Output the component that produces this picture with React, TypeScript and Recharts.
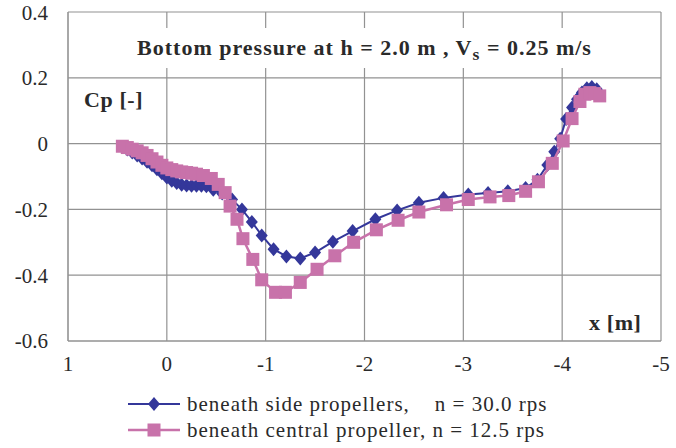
import { CartesianGrid, Scatter, ScatterChart, XAxis, YAxis } from "recharts";

const BLUE = "#34379a";
const PINK = "#c872aa";
const FONT = "'Liberation Serif', 'Times New Roman', serif";

// beneath side propellers, n = 30.0 rps
const sideX = [
  0.45, 0.4, 0.35, 0.3, 0.25, 0.2, 0.15, 0.1, 0.05, 0.0, -0.05, -0.1, -0.15, -0.2, -0.25, -0.3, -0.35, -0.4,
  -0.47, -0.56, -0.66, -0.76, -0.86, -0.96, -1.08, -1.21, -1.35, -1.5, -1.68, -1.88, -2.11, -2.33, -2.55,
  -2.8, -3.05, -3.25, -3.45, -3.63, -3.75, -3.85, -3.92, -3.98, -4.04, -4.1, -4.15, -4.2, -4.25, -4.3, -4.35,
];
const sideCp = [
  -0.01, -0.018, -0.027, -0.036, -0.045, -0.055, -0.066, -0.078, -0.09, -0.103, -0.113, -0.12, -0.125, -0.127,
  -0.128, -0.128, -0.128, -0.13, -0.14, -0.152, -0.17, -0.2, -0.238, -0.279, -0.321, -0.343, -0.349, -0.331,
  -0.298, -0.266, -0.23, -0.203, -0.18, -0.165, -0.155, -0.15, -0.145, -0.135, -0.11, -0.065, -0.025, 0.015,
  0.075, 0.11, 0.135, 0.155, 0.168, 0.172, 0.165,
];

// beneath central propeller, n = 12.5 rps
const centralX = [
  0.45, 0.4, 0.35, 0.3, 0.25, 0.2, 0.15, 0.1, 0.05, 0.0, -0.05, -0.1, -0.15, -0.2, -0.25, -0.3, -0.37, -0.45,
  -0.52, -0.59, -0.64, -0.71, -0.77, -0.87, -0.96, -1.1, -1.2, -1.35, -1.52, -1.7, -1.89, -2.12, -2.34, -2.55,
  -2.83, -3.05, -3.27, -3.46, -3.63, -3.76, -3.9, -4.01, -4.1, -4.18, -4.23, -4.28, -4.33, -4.38,
];
const centralCp = [
  -0.008, -0.012, -0.017, -0.022, -0.028, -0.036, -0.046, -0.056, -0.066, -0.074, -0.079, -0.083, -0.086,
  -0.088, -0.09, -0.093, -0.097, -0.106, -0.124, -0.149, -0.19, -0.23, -0.289, -0.352, -0.414, -0.452, -0.452,
  -0.422, -0.382, -0.341, -0.3, -0.262, -0.233, -0.208, -0.186, -0.17, -0.162, -0.158, -0.145, -0.116, -0.06,
  0.008, 0.076, 0.128, 0.15, 0.155, 0.152, 0.145,
];

const xTicks = [1, 0, -1, -2, -3, -4, -5];
const yTicks = [-0.6, -0.4, -0.2, 0, 0.2, 0.4];

const sideData = sideX.map((x, i) => ({ x, cp: sideCp[i] }));
const centralData = centralX.map((x, i) => ({ x, cp: centralCp[i] }));

const Diamond = (props: any) => {
  const { cx, cy } = props;
  return (
    <polygon
      points={`${cx},${cy - 7} ${cx + 6},${cy} ${cx},${cy + 7} ${cx - 6},${cy}`}
      fill={BLUE}
    />
  );
};

const Square = (props: any) => {
  const { cx, cy } = props;
  return <rect x={cx - 6.5} y={cy - 6.5} width={13} height={13} fill={PINK} />;
};

const tickStyle = { fontFamily: FONT, fontSize: 21, fill: "#2a2a2a" };

const boldLabel = {
  position: "absolute" as const,
  fontFamily: FONT,
  fontWeight: "bold" as const,
  fontSize: 22,
  color: "#2a2a2a",
  letterSpacing: 0.6,
};

const App = () => {
  return (
    <div style={{ position: "absolute", left: 0, top: 0, width: 676, height: 448, background: "#fff" }}>
      <ScatterChart width={676} height={448} margin={{ top: 12, right: 15, left: 0, bottom: 67 }}>
        <CartesianGrid stroke="#929292" strokeWidth={1.2} />
        <XAxis
          type="number"
          dataKey="x"
          domain={[-5, 1]}
          ticks={xTicks}
          reversed
          height={40}
          tickSize={0}
          tickMargin={15}
          axisLine={{ stroke: "#929292" }}
          tick={tickStyle}
          tickFormatter={(v: number) => String(v)}
        />
        <YAxis
          type="number"
          dataKey="cp"
          domain={[-0.6, 0.4]}
          ticks={yTicks}
          width={68}
          tickSize={0}
          tickMargin={20}
          axisLine={{ stroke: "#929292" }}
          tick={tickStyle}
          tickFormatter={(v: number) => String(Math.round(v * 10) / 10)}
        />
        <Scatter
          name="beneath side propellers, n = 30.0 rps"
          data={sideData}
          line={{ stroke: BLUE, strokeWidth: 2 }}
          lineType="joint"
          shape={<Diamond />}
          isAnimationActive={false}
        />
        <Scatter
          name="beneath central propeller, n = 12.5 rps"
          data={centralData}
          line={{ stroke: PINK, strokeWidth: 2.5 }}
          lineType="joint"
          shape={<Square />}
          isAnimationActive={false}
        />
      </ScatterChart>

      {/* title box sits on top of the grid */}
      <div
        style={{
          ...boldLabel,
          left: 69,
          top: 28,
          width: 591,
          height: 40,
          background: "#fff",
          display: "flex",
          alignItems: "center",
          justifyContent: "center",
          whiteSpace: "pre",
          letterSpacing: 1,
        }}
      >
        <span>
          Bottom pressure at h = 2.0 m , V<sub style={{ fontSize: "0.8em", lineHeight: 0 }}>s</sub> = 0.25 m/s
        </span>
      </div>

      <div style={{ ...boldLabel, left: 84, top: 87 }}>Cp [-]</div>
      <div style={{ ...boldLabel, left: 589, top: 310 }}>x [m]</div>

      {/* legend */}
      <div
        style={{
          position: "absolute",
          left: 127,
          top: 391,
          fontFamily: FONT,
          fontSize: 21,
          letterSpacing: 1,
          color: "#2a2a2a",
        }}
      >
        <div style={{ display: "flex", alignItems: "center", height: 26 }}>
          <svg width={56} height={20}>
            <line x1={1} y1={10} x2={53} y2={10} stroke={BLUE} strokeWidth={2} />
            <Diamond cx={27} cy={10} />
          </svg>
          <span style={{ whiteSpace: "pre", marginLeft: 4 }}>beneath side propellers,    n = 30.0 rps</span>
        </div>
        <div style={{ display: "flex", alignItems: "center", height: 26 }}>
          <svg width={56} height={20}>
            <line x1={1} y1={10} x2={53} y2={10} stroke={PINK} strokeWidth={2.5} />
            <Square cx={27} cy={10} />
          </svg>
          <span style={{ whiteSpace: "pre", marginLeft: 4 }}>beneath central propeller, n = 12.5 rps</span>
        </div>
      </div>
    </div>
  );
};

export default App;
